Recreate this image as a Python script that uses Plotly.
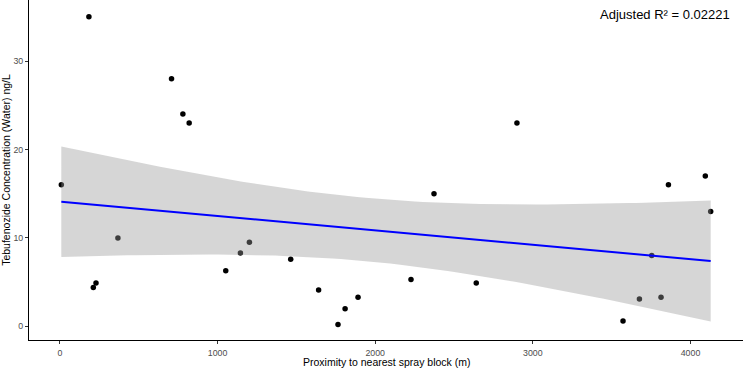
import numpy as np
import plotly.graph_objects as go

proximity = [9, 184, 212, 229, 368, 708, 780, 820, 1052, 1145, 1202, 1464, 1641, 1764,
             1809, 1891, 2227, 2373, 2641, 2899, 3572, 3676, 3754, 3813, 3860, 4094, 4128]
concentration = [16.0, 35.0, 4.4, 4.9, 10.0, 28.0, 24.0, 23.0, 6.3, 8.3, 9.5, 7.6, 4.1, 0.2,
                 2.0, 3.3, 5.3, 15.0, 4.9, 23.0, 0.6, 3.1, 8.0, 3.3, 16.0, 17.0, 13.0]

x = np.array(proximity, float)
y = np.array(concentration, float)
n = len(x)
b1, b0 = np.polyfit(x, y, 1)
resid = y - (b0 + b1 * x)
s = np.sqrt(np.sum(resid ** 2) / (n - 2))
xm = x.mean()
sxx = np.sum((x - xm) ** 2)
t = 2.0595  # t(0.975, 25)
xs = np.linspace(x.min(), x.max(), 80)
yfit = b0 + b1 * xs
se = s * np.sqrt(1 / n + (xs - xm) ** 2 / sxx)
upper = yfit + t * se
lower = yfit - t * se

fig = go.Figure()
fig.add_trace(go.Scatter(x=proximity, y=concentration, mode="markers",
                         marker=dict(color="black", size=5.5), showlegend=False))
fig.add_trace(go.Scatter(x=np.concatenate([xs, xs[::-1]]), y=np.concatenate([upper, lower[::-1]]),
                         fill="toself", fillcolor="rgba(153,153,153,0.4)", mode="lines",
                         line=dict(width=0), showlegend=False, hoverinfo="skip"))
fig.add_trace(go.Scatter(x=xs, y=yfit, mode="lines", line=dict(color="#0000FF", width=2),
                         showlegend=False))

fig.add_annotation(text="Adjusted R² = 0.02221", xref="paper", yref="paper", x=0.985, y=0.985,
                   xanchor="right", yanchor="top", showarrow=False,
                   font=dict(size=13, color="black", family="Liberation Sans"))
fig.add_annotation(text="Proximity to nearest spray block (m)", xref="paper", yref="paper",
                   x=0.5, y=0, xanchor="center", yanchor="top", yshift=-14, showarrow=False,
                   font=dict(size=10.5, color="black"))

axis_common = dict(showline=True, linecolor="black", linewidth=1, ticks="outside", ticklen=3,
                   tickcolor="#333333", tickfont=dict(size=8.8, color="#4D4D4D"), showgrid=False,
                   zeroline=False, mirror=False, automargin=False)
fig.update_xaxes(range=[-196, 4333], tickvals=[0, 1000, 2000, 3000, 4000], ticklabelstandoff=1,
                 **axis_common)
fig.update_yaxes(range=[-1.54, 36.9], tickvals=[0, 10, 20, 30],
                 title=dict(text="Tebufenozide Concentration (Water) ng/L", font=dict(size=10.5, color="black"),
                            standoff=4), **axis_common)
fig.update_layout(width=745, height=369, margin=dict(l=29, r=2, t=0, b=29),
                  plot_bgcolor="white", paper_bgcolor="white",
                  font=dict(family="Liberation Sans, Arial, sans-serif"))
fig.write_html("out.html")
